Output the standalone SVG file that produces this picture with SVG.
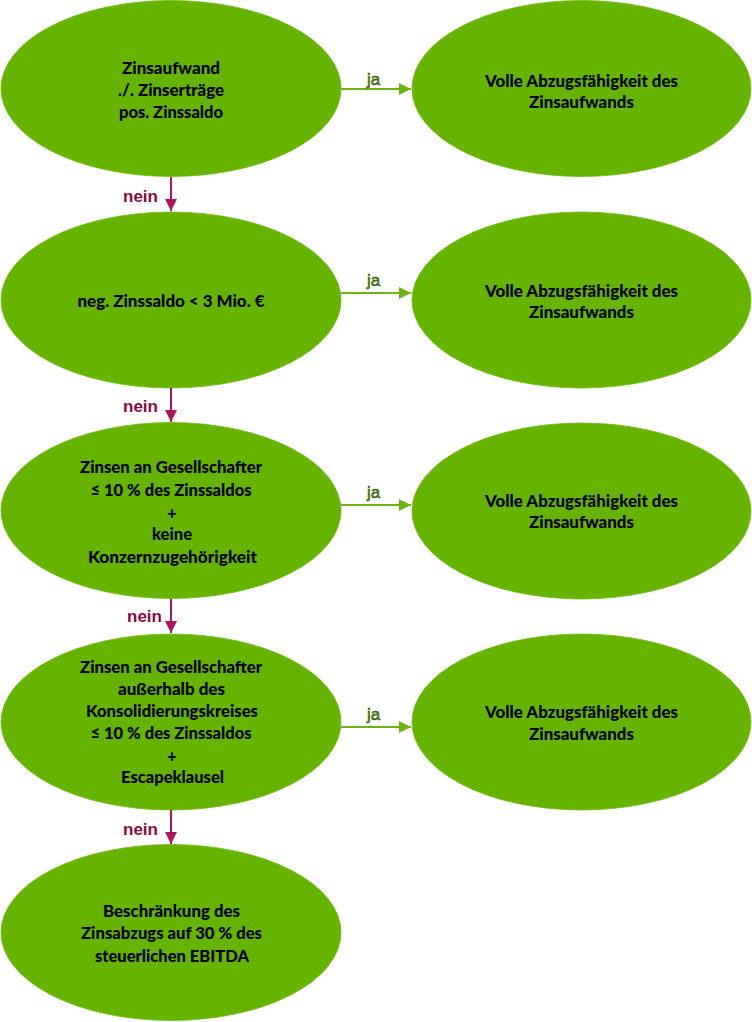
<svg xmlns="http://www.w3.org/2000/svg" width="752" height="1022" viewBox="0 0 752 1022">
<style>
.node ellipse{fill:#66b400;stroke:#6cb80a;stroke-width:0.8}
.t{font-family:Lato,"Liberation Sans",sans-serif;font-weight:900;font-size:16px;fill:#000;text-anchor:middle}
.ja{font-family:"Liberation Sans",Arial,sans-serif;font-size:17px;fill:#5fa800;stroke:#1a3300;stroke-width:0.5}
.nein{font-family:"Liberation Sans",Arial,sans-serif;font-weight:bold;font-size:17px;fill:#880a42}
.yes{stroke:#6cb414;stroke-width:2;fill:none}
.no{stroke:#b0145c;stroke-width:2;fill:none}
</style>
<defs>
<marker id="ag" markerWidth="12" markerHeight="12" refX="12" refY="6" orient="auto" markerUnits="userSpaceOnUse"><path d="M0,0 L12,6 L0,12 Z" fill="#6cb414"/></marker>
<marker id="am" markerWidth="12" markerHeight="12" refX="12" refY="6" orient="auto" markerUnits="userSpaceOnUse"><path d="M0,0 L12,6 L0,12 Z" fill="#b0145c"/></marker>
</defs>
<rect width="752" height="1022" fill="#fff"/>
<g id="n1" class="node"><ellipse cx="171" cy="88.5" rx="170" ry="88"/>
<text class="t" x="171" y="74" textLength="98" lengthAdjust="spacingAndGlyphs">Zinsaufwand</text>
<text class="t" x="171" y="96" textLength="106" lengthAdjust="spacingAndGlyphs">./. Zinserträge</text>
<text class="t" x="171" y="118" textLength="104" lengthAdjust="spacingAndGlyphs">pos. Zinssaldo</text></g>
<g id="r1" class="node"><ellipse cx="581.5" cy="88.5" rx="169.5" ry="88"/>
<text class="t" x="581.5" y="87" textLength="193" lengthAdjust="spacingAndGlyphs">Volle Abzugsfähigkeit des</text>
<text class="t" x="581.5" y="108" textLength="105" lengthAdjust="spacingAndGlyphs">Zinsaufwands</text></g>
<g id="n2" class="node"><ellipse cx="171" cy="300" rx="170" ry="88"/>
<text class="t" x="171" y="307" textLength="187" lengthAdjust="spacingAndGlyphs">neg. Zinssaldo &lt; 3 Mio. €</text></g>
<g id="r2" class="node"><ellipse cx="581.5" cy="300" rx="169.5" ry="88"/>
<text class="t" x="581.5" y="297" textLength="193" lengthAdjust="spacingAndGlyphs">Volle Abzugsfähigkeit des</text>
<text class="t" x="581.5" y="318" textLength="105" lengthAdjust="spacingAndGlyphs">Zinsaufwands</text></g>
<g id="n3" class="node"><ellipse cx="171" cy="510.5" rx="170" ry="88"/>
<text class="t" x="171" y="473" textLength="182" lengthAdjust="spacingAndGlyphs">Zinsen an Gesellschafter</text>
<text class="t" x="171" y="496" textLength="161" lengthAdjust="spacingAndGlyphs">≤ 10 % des Zinssaldos</text>
<text class="t" x="172" y="519" font-size="18">+</text>
<text class="t" x="172" y="540" textLength="40" lengthAdjust="spacingAndGlyphs">keine</text>
<text class="t" x="172.5" y="563" textLength="169" lengthAdjust="spacingAndGlyphs">Konzernzugehörigkeit</text></g>
<g id="r3" class="node"><ellipse cx="581.5" cy="511" rx="169.5" ry="88"/>
<text class="t" x="581.5" y="507" textLength="193" lengthAdjust="spacingAndGlyphs">Volle Abzugsfähigkeit des</text>
<text class="t" x="581.5" y="528" textLength="105" lengthAdjust="spacingAndGlyphs">Zinsaufwands</text></g>
<g id="n4" class="node"><ellipse cx="171" cy="722" rx="170" ry="88"/>
<text class="t" x="171" y="673" textLength="182" lengthAdjust="spacingAndGlyphs">Zinsen an Gesellschafter</text>
<text class="t" x="171.5" y="695" textLength="107" lengthAdjust="spacingAndGlyphs">außerhalb des</text>
<text class="t" x="172" y="717" textLength="172" lengthAdjust="spacingAndGlyphs">Konsolidierungskreises</text>
<text class="t" x="171" y="739" textLength="161" lengthAdjust="spacingAndGlyphs">≤ 10 % des Zinssaldos</text>
<text class="t" x="172" y="762" font-size="18">+</text>
<text class="t" x="172.5" y="783" textLength="103" lengthAdjust="spacingAndGlyphs">Escapeklausel</text></g>
<g id="r4" class="node"><ellipse cx="581.5" cy="722" rx="169.5" ry="88"/>
<text class="t" x="581.5" y="718" textLength="193" lengthAdjust="spacingAndGlyphs">Volle Abzugsfähigkeit des</text>
<text class="t" x="581.5" y="740" textLength="105" lengthAdjust="spacingAndGlyphs">Zinsaufwands</text></g>
<g id="n5" class="node"><ellipse cx="171" cy="932.5" rx="170" ry="88"/>
<text class="t" x="171.5" y="917" textLength="137" lengthAdjust="spacingAndGlyphs">Beschränkung des</text>
<text class="t" x="171.5" y="939" textLength="181" lengthAdjust="spacingAndGlyphs">Zinsabzugs auf 30 % des</text>
<text class="t" x="172" y="962" textLength="154" lengthAdjust="spacingAndGlyphs">steuerlichen  EBITDA</text></g>
<g id="connectors">
<line class="yes" x1="341" y1="89" x2="411" y2="89" marker-end="url(#ag)"/>
<line class="yes" x1="341" y1="293" x2="411" y2="293" marker-end="url(#ag)"/>
<line class="yes" x1="341" y1="505" x2="411" y2="505" marker-end="url(#ag)"/>
<line class="yes" x1="341" y1="727" x2="411" y2="727" marker-end="url(#ag)"/>
<line class="no" x1="171" y1="177" x2="171" y2="211" marker-end="url(#am)"/>
<line class="no" x1="171" y1="388" x2="171" y2="422" marker-end="url(#am)"/>
<line class="no" x1="171" y1="599" x2="171" y2="633" marker-end="url(#am)"/>
<line class="no" x1="171" y1="810" x2="171" y2="844" marker-end="url(#am)"/>
<text class="ja" x="367" y="85">ja</text>
<text class="ja" x="367" y="286">ja</text>
<text class="ja" x="367" y="498">ja</text>
<text class="ja" x="367" y="720">ja</text>
<text class="nein" x="123" y="202">nein</text>
<text class="nein" x="123" y="412">nein</text>
<text class="nein" x="127" y="622">nein</text>
<text class="nein" x="123" y="835">nein</text>
</g>
</svg>
